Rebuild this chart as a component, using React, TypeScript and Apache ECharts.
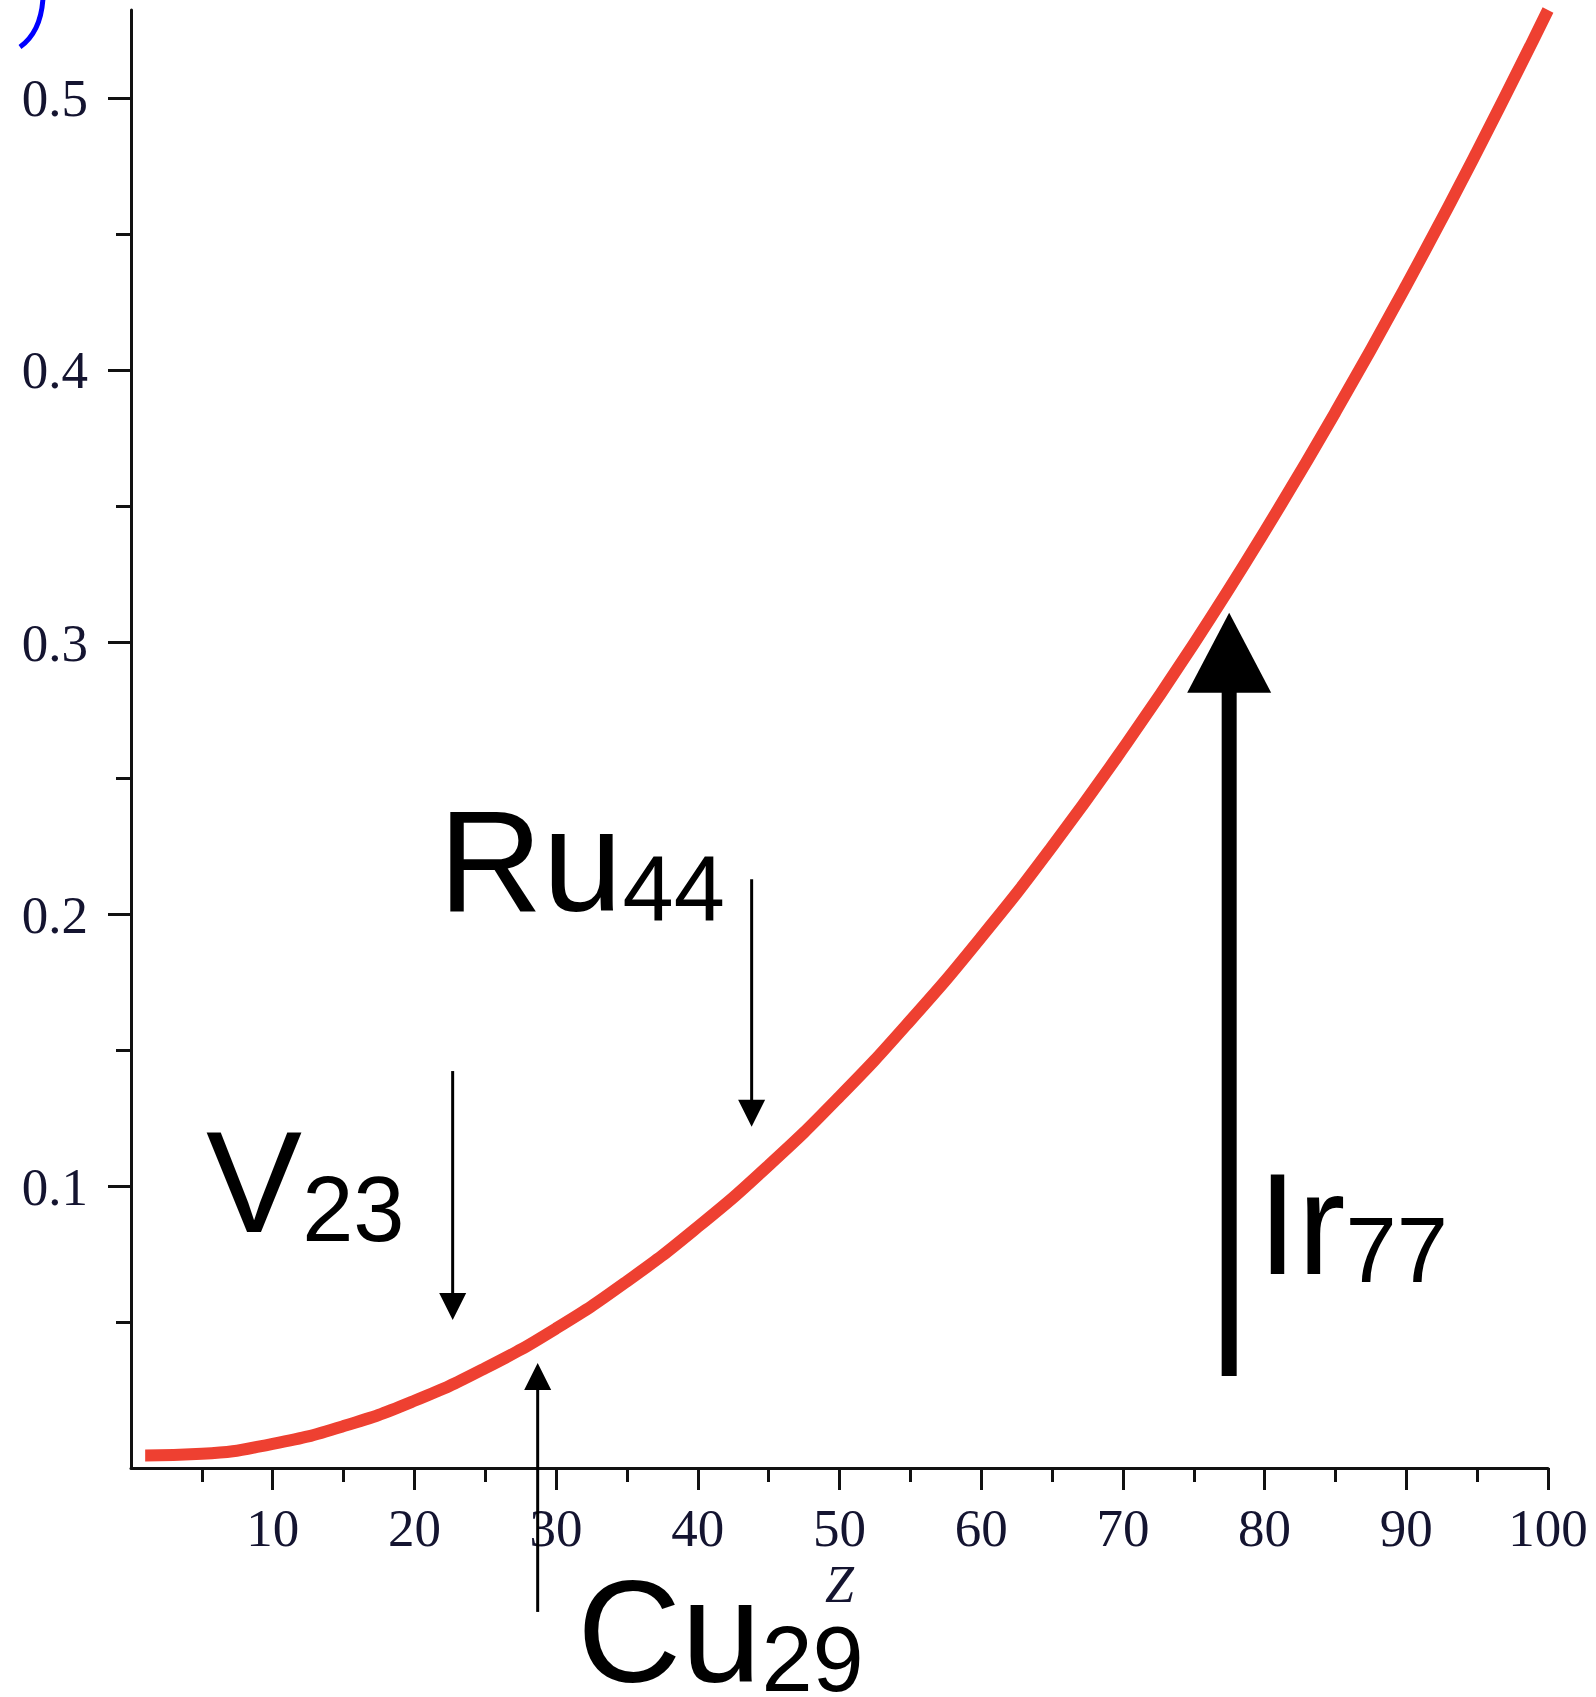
import React, { useEffect, useRef } from "react";
import * as echarts from "echarts";

// Curve: value vs atomic number Z
const zValues = [1, 5, 10, 15, 20, 25, 30, 35, 40, 45, 50, 55, 60, 65, 70, 75, 80, 85, 90, 95, 100];
const curveValues = [
  0.0012, 0.0018, 0.0055, 0.012, 0.0213, 0.0333, 0.0479, 0.0652, 0.0852, 0.1078, 0.1331,
  0.1611, 0.1917, 0.225, 0.261, 0.2995, 0.3408, 0.3847, 0.4313, 0.4806, 0.5325,
];

// Axis ticks
const xMajorTicks = [10, 20, 30, 40, 50, 60, 70, 80, 90, 100];
const xMinorTicks = [5, 15, 25, 35, 45, 55, 65, 75, 85, 95];
const yMajorTicks = [0.1, 0.2, 0.3, 0.4, 0.5];
const yMinorTicks = [0.05, 0.15, 0.25, 0.35, 0.45];
const xMin = 0;
const xMax = 100;
const yMin = -0.0034;
const yMax = 0.5325;

// Element annotations (arrows in data units)
const elementSymbols = ["V", "Ru", "Cu", "Ir"];
const atomicNumbers = ["23", "44", "29", "77"];
const arrowZ = [22.7, 43.8, 28.7, 77.5];
const arrowFrom = [0.1425, 0.213, -0.0563, 0.0304];
const arrowTo = [0.051, 0.122, 0.0352, 0.311];
const labelZ = [5.3, 21.7, 31.5, 79.5];
const labelBaseline = [0.083, 0.201, -0.0824, 0.0679];
const arrowIsBold = [false, false, false, true];

const TICK_FONT = "'Liberation Serif', 'Times New Roman', serif";
const LABEL_FONT = "'Liberation Sans', Arial, Helvetica, sans-serif";
const RED = "#ee4031";
const AXIS_COLOR = "#111";
const TEXT_COLOR = "#141430";

export default function App() {
  const ref = useRef<HTMLDivElement>(null);

  useEffect(() => {
    if (!ref.current) return;
    const chart = echarts.init(ref.current, undefined, { renderer: "svg" });

    const curve = zValues.map((z, i) => [z, curveValues[i]]);
    const annotations = elementSymbols.map((_, i) => [
      arrowZ[i],
      arrowFrom[i],
      arrowTo[i],
      labelZ[i],
      labelBaseline[i],
    ]);

    const axisLineStyle = { color: AXIS_COLOR, width: 3 };

    const option: any = {
      animation: false,
      backgroundColor: "#fff",
      grid: { left: 131, right: 48, top: 10, bottom: 229, containLabel: false },
      xAxis: [
        {
          type: "value",
          min: xMin,
          max: xMax,
          position: "bottom",
          axisLine: { show: true, onZero: false, lineStyle: axisLineStyle },
          axisTick: {
            show: true,
            customValues: xMajorTicks,
            length: 22,
            lineStyle: { color: AXIS_COLOR, width: 3 },
          },
          axisLabel: {
            show: true,
            customValues: xMajorTicks,
            margin: 33,
            fontFamily: TICK_FONT,
            fontSize: 53,
            color: TEXT_COLOR,
            formatter: (v: number) => String(Math.round(v)),
          },
          splitLine: { show: false },
          name: "Z",
          nameLocation: "middle",
          nameGap: 88,
          nameTextStyle: {
            fontFamily: TICK_FONT,
            fontStyle: "italic",
            fontSize: 52,
            color: TEXT_COLOR,
          },
        },
        {
          type: "value",
          min: xMin,
          max: xMax,
          position: "bottom",
          axisLine: { show: false, onZero: false },
          axisTick: {
            show: true,
            customValues: xMinorTicks,
            length: 14,
            lineStyle: { color: AXIS_COLOR, width: 3 },
          },
          axisLabel: { show: false },
          splitLine: { show: false },
        },
      ],
      yAxis: [
        {
          type: "value",
          min: yMin,
          max: yMax,
          position: "left",
          axisLine: { show: true, onZero: false, lineStyle: axisLineStyle },
          axisTick: {
            show: true,
            customValues: yMajorTicks,
            length: 23,
            lineStyle: { color: AXIS_COLOR, width: 3 },
          },
          axisLabel: {
            show: true,
            customValues: yMajorTicks,
            margin: 43,
            fontFamily: TICK_FONT,
            fontSize: 53,
            color: TEXT_COLOR,
            formatter: (v: number) => v.toFixed(1),
          },
          splitLine: { show: false },
        },
        {
          type: "value",
          min: yMin,
          max: yMax,
          position: "left",
          axisLine: { show: false, onZero: false },
          axisTick: {
            show: true,
            customValues: yMinorTicks,
            length: 15,
            lineStyle: { color: AXIS_COLOR, width: 3 },
          },
          axisLabel: { show: false },
          splitLine: { show: false },
        },
      ],
      graphic: [
        {
          type: "bezierCurve",
          shape: { x1: 43, y1: -2, cpx1: 41, cpy1: 32, x2: 20, y2: 47 },
          style: { stroke: "#0000ff", lineWidth: 5, fill: "none" },
        },
      ],
      series: [
        {
          type: "line",
          xAxisIndex: 0,
          yAxisIndex: 0,
          data: curve,
          smooth: true,
          showSymbol: false,
          symbol: "none",
          lineStyle: { color: RED, width: 12 },
          z: 2,
        },
        {
          type: "custom",
          xAxisIndex: 0,
          yAxisIndex: 0,
          clip: false,
          z: 3,
          silent: true,
          data: annotations,
          renderItem: (params: any, api: any) => {
            const i = params.dataIndex;
            const bold = arrowIsBold[i];
            const shaftW = bold ? 15 : 3;
            const headW = bold ? 84 : 27;
            const headL = bold ? 80 : 27;
            const p0 = api.coord([api.value(0), api.value(1)]);
            const p1 = api.coord([api.value(0), api.value(2)]);
            const dir = p1[1] > p0[1] ? 1 : -1;
            const baseY = p1[1] - dir * headL;
            const lp = api.coord([api.value(3), api.value(4)]);
            return {
              type: "group",
              children: [
                {
                  type: "line",
                  shape: { x1: p0[0], y1: p0[1], x2: p1[0], y2: baseY + dir * 2 },
                  style: { stroke: "#000", lineWidth: shaftW },
                },
                {
                  type: "polygon",
                  shape: {
                    points: [
                      [p1[0], p1[1]],
                      [p1[0] - headW / 2, baseY],
                      [p1[0] + headW / 2, baseY],
                    ],
                  },
                  style: { fill: "#000" },
                },
                {
                  type: "text",
                  x: lp[0],
                  y: lp[1] - 122,
                  style: {
                    text: `{m|${elementSymbols[i]}}{s|${atomicNumbers[i]}}`,
                    align: "left",
                    verticalAlign: "top",
                    rich: {
                      m: {
                        fontFamily: LABEL_FONT,
                        fontSize: 144,
                        lineHeight: 144,
                        fill: "#000",
                        color: "#000",
                      },
                      s: {
                        fontFamily: LABEL_FONT,
                        fontSize: 92,
                        lineHeight: 90,
                        verticalAlign: "bottom",
                        fill: "#000",
                        color: "#000",
                      },
                    },
                  },
                },
              ],
            };
          },
        },
      ],
    };

    chart.setOption(option);
    return () => chart.dispose();
  }, []);

  return (
    <div
      ref={ref}
      style={{ position: "absolute", left: 0, top: 0, width: 1596, height: 1697, background: "#fff" }}
    />
  );
}
